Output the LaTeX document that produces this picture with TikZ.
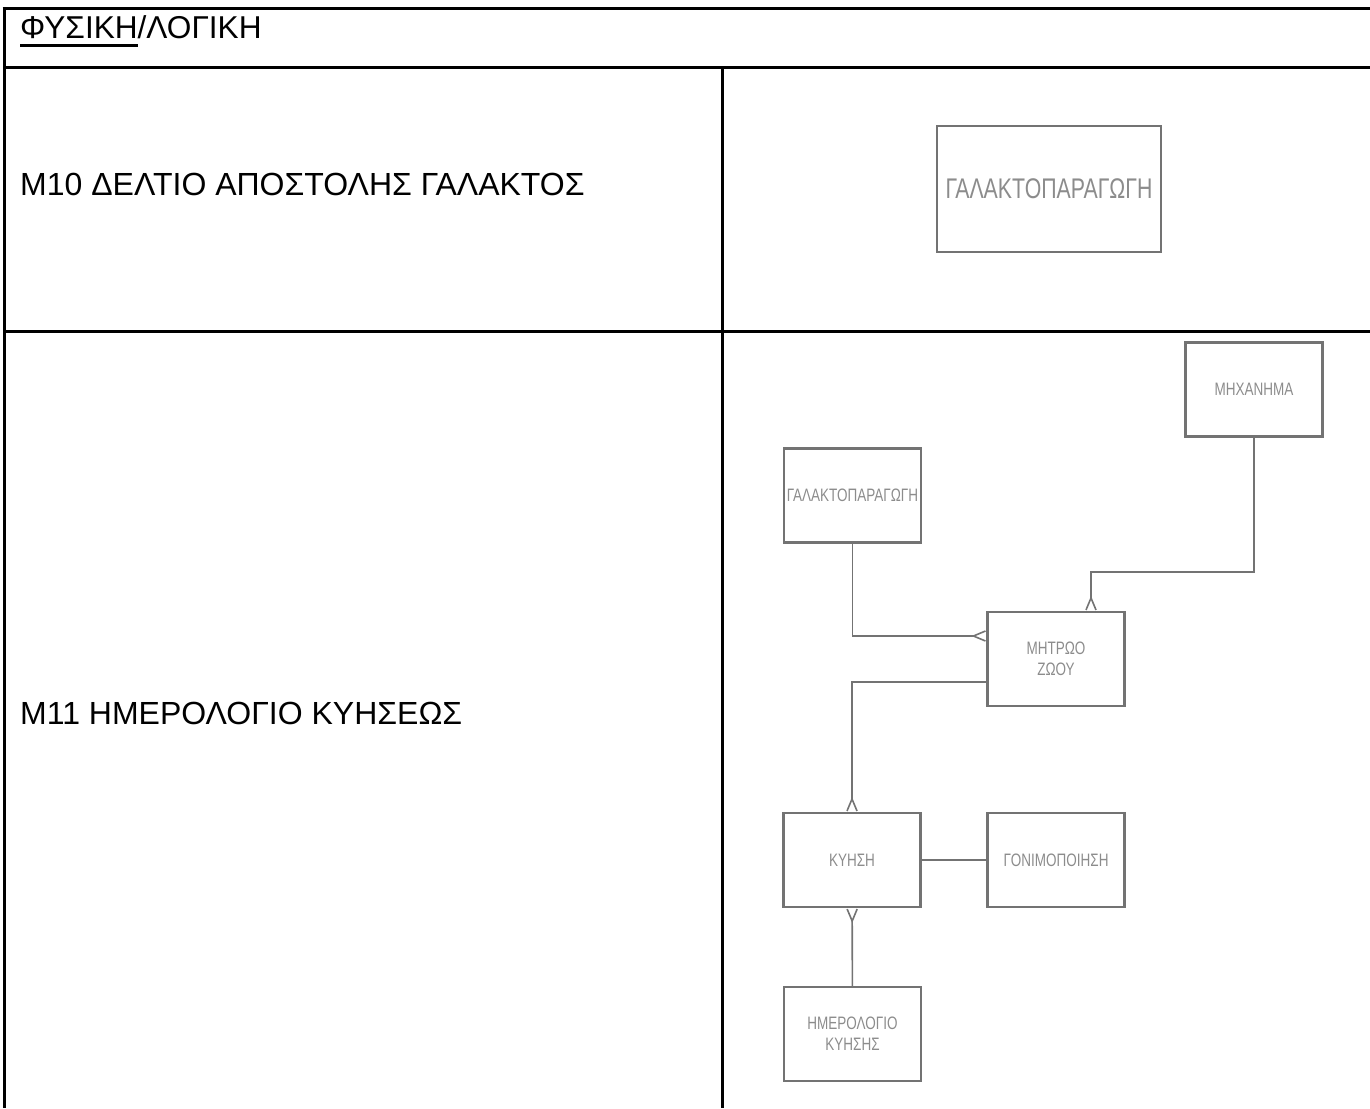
\documentclass[tikz,border=0pt]{standalone}
\usepackage{fontspec}
\setmainfont{Liberation Sans}
\newfontfamily\erfont[FakeStretch=0.75]{Liberation Sans}
\usetikzlibrary{arrows.meta}

\newcommand{\thickunder}[1]{\setbox0\hbox{#1}\rlap{\vrule width\wd0 height -5.5pt depth 8.5pt}\box0}

\begin{document}
\begin{tikzpicture}[x=1pt,y=-1pt,
	cell/.style={anchor=base west,inner sep=0pt,font=\fontsize{32}{38}\selectfont},
	entity/.style={shape=rectangle,draw=black!55,line width=2.5pt,text=black!45,align=center,
		minimum width=137pt,minimum height=94pt,inner sep=0pt,font=\erfont\fontsize{18}{21}\selectfont},
	link/.style={draw=black!55,line width=1.6pt},
	crow/.style={link,-{Straight Barb[reversed,length=12pt,width=10pt]}},
	crowstart/.style={link,{Straight Barb[reversed,length=12pt,width=10pt]}-}]

	\useasboundingbox (0,0) rectangle (1370,1108);

	% table
	\draw[line width=3pt] (2.5,9) -- (1370,9);
	\draw[line width=3pt] (4,7.5) -- (4,1108);
	\draw[line width=3pt] (4,68) -- (1370,68);
	\draw[line width=3pt] (4,331) -- (1370,331);
	\draw[line width=3pt] (722,68) -- (722,1108);

	\node[cell,font=\fontsize{31.6}{38}\selectfont] (head) at (20,39) {\thickunder{ΦΥΣΙΚΗ}/ΛΟΓΙΚΗ};
	\node[cell] (m10) at (20,195) {Μ10 ΔΕΛΤΙΟ ΑΠΟΣΤΟΛΗΣ ΓΑΛΑΚΤΟΣ};
	\node[cell] (m11) at (20,724.5) {Μ11 ΗΜΕΡΟΛΟΓΙΟ ΚΥΗΣΕΩΣ};

	% entities
	\node[entity,minimum width=224pt,minimum height=126pt,font=\erfont\fontsize{28.4}{32}\selectfont] (galbig) at (1049, 189) {ΓΑΛΑΚΤΟΠΑΡΑΓΩΓΗ};
	\node[entity] (mach)   at (1254, 389.5) {ΜΗΧΑΝΗΜΑ};
	\node[entity] (galsm)  at (852.5, 495.5) {ΓΑΛΑΚΤΟΠΑΡΑΓΩΓΗ};
	\node[entity] (mitroo) at (1056, 659)   {ΜΗΤΡΩΟ\\ΖΩΟΥ};
	\node[entity] (kyisi)  at (852, 860)    {ΚΥΗΣΗ};
	\node[entity] (gonim)  at (1056, 860)   {ΓΟΝΙΜΟΠΟΙΗΣΗ};
	\node[entity] (hmer)   at (852.5, 1034) {ΗΜΕΡΟΛΟΓΙΟ\\ΚΥΗΣΗΣ};

	\coordinate (bend) at (1091, 572);

	% relationships
	\draw[crow] (galsm.south) |- ([yshift=23pt]mitroo.west);
	\draw[crow] (mach.south) |- (bend) -- (bend |- mitroo.north);
	\draw[crow] ([yshift=-23pt]mitroo.west) -| (kyisi.north);
	\path[link] (kyisi) edge (gonim);
	\path[crowstart] (kyisi) edge (hmer);

\end{tikzpicture}
\end{document}
